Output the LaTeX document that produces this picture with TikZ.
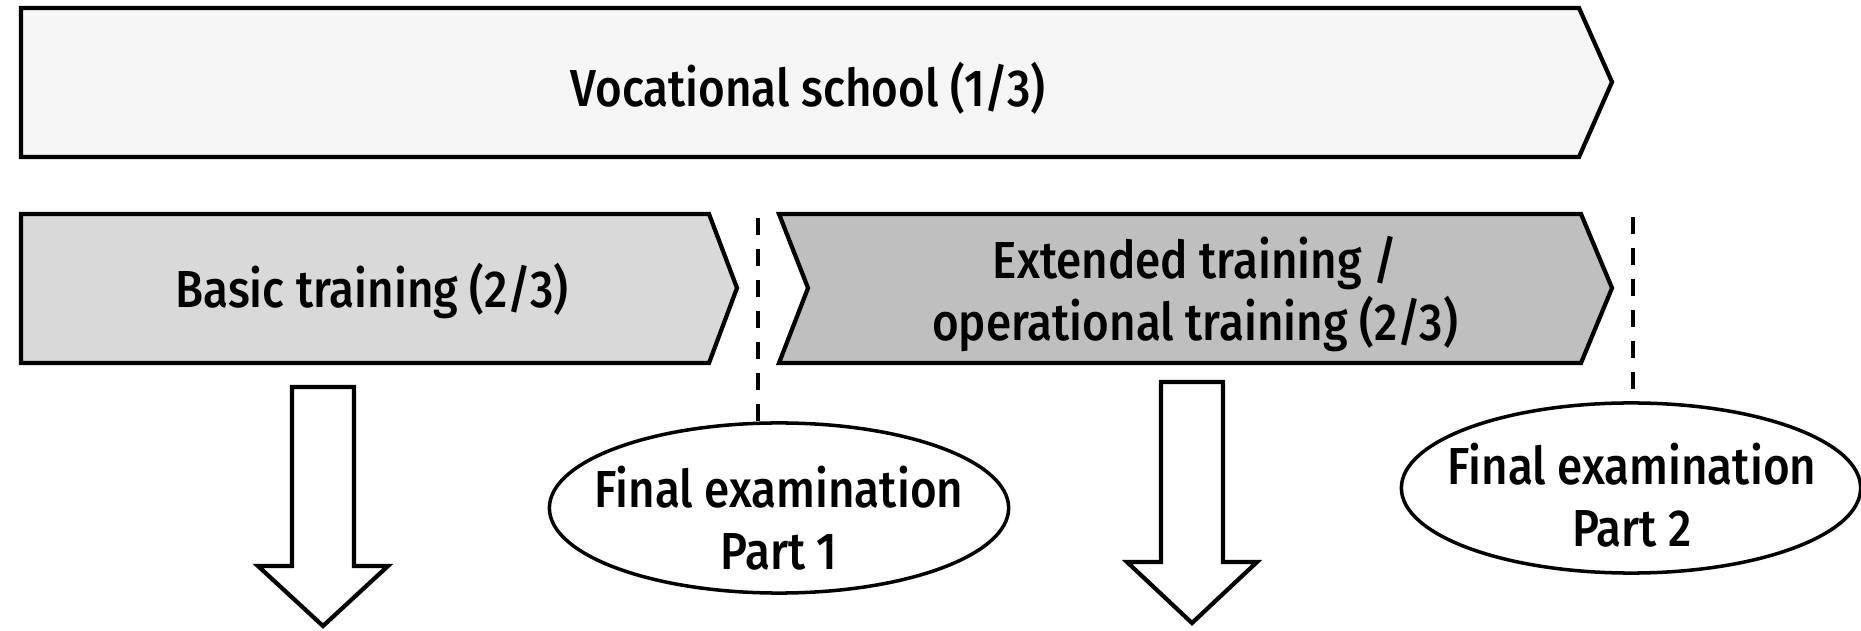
\documentclass[tikz,border=0pt]{standalone}
\usepackage{fontspec}
\setmainfont{Fira Sans}[UprightFont={* Medium}, FakeStretch=0.88]
\usetikzlibrary{shapes.geometric}
\definecolor{schoolgray}{HTML}{F5F5F5}
\definecolor{basicgray}{HTML}{D9D9D9}
\definecolor{extgray}{HTML}{BFBFBF}

\begin{document}
\begin{tikzpicture}[
	x=0.01cm, y=-0.01cm,
	font=\fontsize{14.8pt}{17.6pt}\selectfont,
	phase/.style={draw, line width=1.2pt},
	phasetext/.style={align=center, inner sep=0pt},
	exam/.style={ellipse, draw, line width=1pt, minimum width=4.59cm, minimum height=1.70cm, inner sep=0pt},
	gap/.style={draw, dash pattern=on 0.17cm off 0.14cm, line width=1.2pt},
	down/.style={draw, fill=white, line width=1.2pt}
]
\useasboundingbox (0,0) rectangle (1861,631);

% phases
\path[phase, fill=schoolgray] (21,8) -- (1579,8) -- (1612,82) -- (1579,157) -- (21,157) -- cycle;
\path[phase, fill=basicgray] (21,214) -- (709,214) -- (737,288) -- (709,363) -- (21,363) -- cycle;
\path[phase, fill=extgray] (779,214) -- (1581,214) -- (1612,288) -- (1581,363) -- (779,363) -- (808,288) -- cycle;

\node[phasetext] (school) at (808,88) {Vocational school (1/3)};
\node[phasetext] (basic) at (372,291) {Basic training (2/3)};
\node[phasetext] (extended) at (1195,294) {Extended training /\\operational training (2/3)};

% examinations
\node[exam] (exam1) at (779,508) {};
\node[exam] (exam2) at (1631,488) {};
\node[phasetext] (exam1text) at (779,518) {Final examination\\Part 1};
\node[phasetext] (exam2text) at (1632,495) {Final examination\\Part 2};

\coordinate (gap1top) at (758,218);
\coordinate (gap2top) at (1633,217);
\coordinate (gap2end) at (1633,389);
\draw[gap] (gap1top) -- (gap1top |- exam1.north);
\draw[gap] (gap2top) -- (gap2end);

% arrows down
\path[down] (292,387) -- (354,387) -- (354,566) -- (388,566) -- (323,626) -- (258,566) -- (292,566) -- cycle;
\path[down] (1161,382) -- (1223,382) -- (1223,562) -- (1257,562) -- (1192,623) -- (1127,562) -- (1161,562) -- cycle;
\end{tikzpicture}
\end{document}
